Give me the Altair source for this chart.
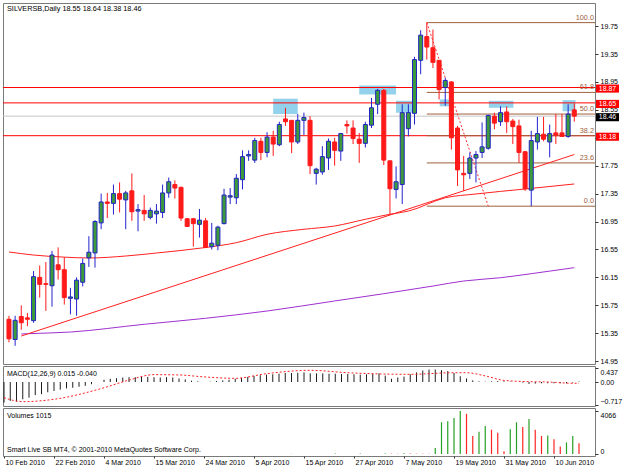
import altair as alt
import pandas as pd

# ---------------- data ----------------
opens = [15.55, 15.26, 15.59, 15.57, 15.53, 16.15, 16.06, 16.03, 16.33, 16.26,
         15.85, 15.84, 16.08, 16.43, 16.50, 16.93, 17.23, 17.21, 17.35, 17.26,
         17.39, 17.10, 17.11, 17.01, 17.06, 17.08, 17.36, 17.48, 17.44, 16.99,
         16.99, 16.91, 16.96, 16.59, 16.61, 16.92, 17.30, 17.29, 17.55, 17.89,
         17.83, 18.10, 17.94, 18.16, 18.05, 18.42, 18.40, 18.09, 18.40, 18.40,
         17.64, 17.66, 17.86, 18.09, 17.96, 18.34, 18.29, 18.13, 18.07, 18.33,
         18.63, 18.83, 17.82, 17.41, 17.48, 18.28, 18.50, 19.26, 19.60, 19.44,
         19.26, 18.87, 18.95, 18.29, 17.64, 17.64, 17.86, 17.94, 18.00, 18.46,
         18.38, 18.52, 18.39, 18.32, 17.95, 17.40, 18.09, 18.20, 18.09, 18.22,
         18.22, 18.17, 18.55]
highs = [15.60, 15.60, 15.75, 15.64, 16.24, 16.32, 16.37, 16.53, 16.58, 16.44,
         16.00, 16.15, 16.42, 16.74, 16.97, 17.35, 17.36, 17.48, 17.51, 17.39,
         17.64, 17.20, 17.33, 17.15, 17.20, 17.48, 17.58, 17.54, 17.45, 17.00,
         17.00, 17.13, 17.00, 16.93, 16.89, 17.42, 17.43, 17.63, 17.97, 17.97,
         18.15, 18.15, 18.23, 18.25, 18.38, 18.58, 18.40, 18.49, 18.51, 18.46,
         17.72, 18.03, 18.14, 18.15, 18.22, 18.40, 18.40, 18.22, 18.38, 18.72,
         18.85, 18.85, 17.82, 17.74, 18.63, 18.63, 19.31, 19.69, 19.80, 19.70,
         19.26, 19.01, 18.96, 18.32, 17.89, 17.94, 17.96, 18.37, 18.48, 18.51,
         18.60, 18.60, 18.42, 18.41, 17.96, 18.25, 18.45, 18.45, 18.34, 18.49,
         18.49, 18.63, 18.64]
lows = [15.22, 15.17, 15.40, 15.45, 15.50, 15.86, 15.67, 15.73, 16.12, 15.76,
        15.62, 15.60, 16.02, 16.30, 16.29, 16.84, 17.00, 17.05, 17.08, 16.84,
        16.96, 16.81, 16.96, 16.98, 16.92, 17.00, 17.29, 17.28, 16.96, 16.87,
        16.59, 16.72, 16.57, 16.55, 16.54, 16.91, 17.20, 17.20, 17.41, 17.82,
        17.79, 17.83, 17.87, 17.89, 18.03, 18.32, 17.93, 18.06, 18.19, 17.63,
        17.48, 17.62, 17.69, 17.75, 17.82, 18.21, 18.06, 17.79, 18.01, 18.29,
        18.49, 17.76, 17.05, 17.28, 17.20, 18.17, 18.34, 19.06, 19.27, 19.15,
        18.70, 18.61, 17.98, 17.46, 17.39, 17.56, 17.51, 17.86, 17.98, 18.27,
        18.32, 18.22, 18.06, 17.79, 17.39, 17.17, 17.98, 18.10, 17.87, 18.06,
        18.17, 18.15, 18.38]
closes = [15.27, 15.535, 15.50, 15.55, 16.16, 16.05, 16.05, 16.47, 16.26, 15.86,
          15.87, 16.11, 16.35, 16.51, 16.95, 17.23, 17.21, 17.35, 17.27, 17.36,
          17.09, 17.12, 17.06, 17.11, 17.10, 17.36, 17.52, 17.43, 17.00, 16.88,
          16.92, 16.97, 16.58, 16.64, 16.87, 17.33, 17.32, 17.57, 17.88, 17.91,
          18.11, 17.94, 18.16, 18.06, 18.34, 18.38, 18.09, 18.40, 18.44, 17.75,
          17.70, 17.88, 18.10, 17.97, 18.21, 18.32, 18.14, 18.07, 18.34, 18.58,
          18.83, 17.83, 17.42, 17.52, 18.51, 18.51, 19.27, 19.62, 19.45, 19.23,
          18.84, 18.97, 18.15, 17.69, 17.62, 17.86, 17.91, 18.02, 18.47, 18.36,
          18.51, 18.38, 18.31, 17.94, 17.42, 18.11, 18.21, 18.13, 18.21, 18.19,
          18.17, 18.49, 18.46]
volumes = [0, 0, 0, 20, 0, 0, 0, 15, 0, 0,
           0, 0, 0, 0, 0, 0, 0, 0, 0, 0,
           0, 0, 0, 0, 0, 0, 0, 0, 0, 0,
           15, 0, 0, 0, 0, 0, 0, 0, 0, 0,
           0, 0, 0, 0, 0, 0, 20, 0, 0, 0,
           0, 0, 0, 40, 0, 0, 0, 40, 0, 0,
           0, 50, 30, 25, 60, 40, 30, 25, 20, 560,
           3000, 3100, 3400, 4066, 3800, 1700, 2100, 2650, 2300, 2000,
           260, 2350, 3000, 2550, 3300, 2300, 1700, 1750, 1400, 700,
           1100, 1700, 1015]
macd_hist = [-0.64, -0.59, -0.61, -0.54, -0.49, -0.41, -0.38, -0.32, -0.28, -0.24,
             -0.20, -0.18, -0.15, -0.12, -0.07, 0.00, 0.07, 0.10, 0.12, 0.14,
             0.15, 0.15, 0.16, 0.16, 0.15, 0.14, 0.15, 0.14, 0.11, 0.08,
             0.04, 0.02, 0.00, 0.01, 0.03, 0.05, 0.07, 0.10, 0.13, 0.16,
             0.19, 0.21, 0.23, 0.24, 0.26, 0.28, 0.28, 0.29, 0.30, 0.27,
             0.27, 0.27, 0.26, 0.26, 0.25, 0.25, 0.24, 0.23, 0.24, 0.26,
             0.27, 0.20, 0.10, 0.14, 0.17, 0.24, 0.30, 0.36, 0.39, 0.39,
             0.37, 0.34, 0.28, 0.18, 0.11, 0.05, 0.02, 0.01, 0.02, 0.03,
             0.02, 0.01, 0.00, -0.02, -0.06, -0.05, -0.04, -0.04, -0.04, -0.04,
             -0.04, -0.02, 0.015]
signal_i = [0, 3, 8, 16, 20, 24, 28, 32, 37, 42, 49, 55, 65, 72, 74, 77, 80, 84, 87, 91, 92]
signal_v = [-0.49, -0.615, -0.54, -0.18, 0.06, 0.23, 0.22, 0.16, 0.115, 0.26, 0.365,
            0.29, 0.24, 0.29, 0.29, 0.19, 0.05, 0.01, 0.0, -0.04, -0.04]

ma_red_i = [0, 4, 9, 13, 19, 24, 32, 37, 42, 48, 53, 58, 62, 65, 71, 76, 84, 92]
ma_red_p = [16.514, 16.47, 16.44, 16.428, 16.456, 16.499, 16.578, 16.647, 16.767,
            16.839, 16.886, 16.982, 17.054, 17.10, 17.29, 17.345, 17.416, 17.488]
ma_purple_i = [2, 3, 10, 22, 32, 42, 53, 61, 69, 74, 80, 85, 92]
ma_purple_p = [15.339, 15.343, 15.367, 15.478, 15.564, 15.668, 15.812, 15.916,
               16.026, 16.098, 16.145, 16.203, 16.289]
trend_i = [2, 92]
trend_p = [15.31, 17.91]

hline_p = [18.87, 18.65, 18.18]
current_p = [18.46]
fib_p = [19.80, 18.80, 18.49, 18.18, 17.79, 17.17]
fib_txt = ["100.0", "61.8", "50.0", "38.2", "23.6", "0.0"]
fib_from = 68
fib_diag_i = [68, 78]
fib_diag_p = [19.80, 17.17]

zone_i0 = [43, 57, 63, 70.1, 78.1, 90.1]
zone_i1 = [47, 63, 65.8, 72, 82.1, 92.2]
zone_p0 = [18.49, 18.77, 18.51, 18.60, 18.58, 18.53]
zone_p1 = [18.71, 18.90, 18.68, 18.70, 18.68, 18.69]

tag_p = [18.87, 18.65, 18.46, 18.18]
tag_txt = ["18.87", "18.65", "18.46", "18.18"]
tag_col = ["#ff0000", "#ff0000", "#000000", "#ff0000"]

price_ticks = [14.95, 15.35, 15.75, 16.15, 16.55, 16.95, 17.35, 17.75, 18.15,
               18.55, 18.95, 19.35, 19.75]
hidden_tick_labels = ["18.15"]
date_ticks = [0, 8, 16, 24, 32, 40, 48, 56, 64, 72, 80, 88]
date_labels = ["10 Feb 2010", "22 Feb 2010", "4 Mar 2010", "15 Mar 2010",
               "24 Mar 2010", "5 Apr 2010", "15 Apr 2010", "27 Apr 2010",
               "7 May 2010", "19 May 2010", "31 May 2010", "10 Jun 2010"]
macd_ticks = [0.437, 0.0, -0.717]
vol_ticks = [4066, 0]

# ---------------- tables ----------------
n = len(opens)
bars = pd.DataFrame({"i": list(range(n)), "o": opens, "h": highs, "l": lows,
                     "c": closes, "vol": volumes, "macd": macd_hist})
bars["zero"] = 0.0
bars["volup"] = bars["vol"] >= bars["vol"].shift(1).fillna(0)
sig = pd.DataFrame({"i": signal_i, "v": signal_v})
mared = pd.DataFrame({"i": ma_red_i, "p": ma_red_p})
mapur = pd.DataFrame({"i": ma_purple_i, "p": ma_purple_p})
trend = pd.DataFrame({"i": trend_i, "p": trend_p})
hl = pd.DataFrame({"p": hline_p})
cur = pd.DataFrame({"p": current_p})
fib = pd.DataFrame({"p": fib_p, "t": fib_txt, "s": [fib_from] * len(fib_p)})
fdiag = pd.DataFrame({"i": fib_diag_i, "p": fib_diag_p})
zones = pd.DataFrame({"i0": zone_i0, "i1": zone_i1, "p0": zone_p0, "p1": zone_p1})
TAG_HALF = 0.058
tags = pd.DataFrame({"p": tag_p, "t": tag_txt, "col": tag_col})
tags["pc"] = tags["p"] - 0.015
tags["top"] = tags["pc"] + TAG_HALF
tags["bot"] = tags["pc"] - TAG_HALF

W = 592
FONT = "Liberation Sans"
xs = alt.Scale(domain=[-0.16, 94.56], nice=False, zero=False)
ys = alt.Scale(domain=[14.909, 20.081], nice=False, zero=False)
hidden_js = "[" + ",".join("'" + s + "'" for s in hidden_tick_labels) + "]"
price_axis = alt.Axis(orient="right", values=price_ticks, title=None,
                      labelExpr="indexof(" + hidden_js + ", format(datum.value, '.2f')) >= 0 ? '' : format(datum.value, '.2f')",
                      tickSize=3, labelPadding=2, domain=False, grid=False, zindex=0)


def X(f):
    return alt.X(f, type="quantitative", scale=xs, axis=None)


def Y(f):
    return alt.Y(f, type="quantitative", scale=ys, axis=price_axis)


up = "datum.c >= datum.o"

zone_l = alt.Chart(zones).mark_rect(color="#87cdea", opacity=0.9).encode(
    x=X("i0"), x2="i1", y=Y("p0"), y2="p1")
hl_l = alt.Chart(hl).mark_rule(color="#ff0000", strokeWidth=1).encode(y=Y("p"))
cur_l = alt.Chart(cur).mark_rule(color="#c8c8c8", strokeWidth=1).encode(y=Y("p"))
fib_l = alt.Chart(fib).mark_rule(color="#a0603c", strokeWidth=1).encode(
    x=X("s"), x2=alt.value(W), y=Y("p"))
fibt_l = alt.Chart(fib).mark_text(color="#a0603c", align="right", baseline="bottom",
                                  dy=-1, font=FONT, fontSize=7.3).encode(
    x=alt.value(W - 1), y=Y("p"), text="t")
fdiag_l = alt.Chart(fdiag).mark_line(color="#ff3030", strokeWidth=1, strokeDash=[2, 2]).encode(
    x=X("i"), y=Y("p"))
mared_l = alt.Chart(mared).mark_line(color="#ff2020", strokeWidth=1, interpolate="monotone").encode(
    x=X("i"), y=Y("p"))
mapur_l = alt.Chart(mapur).mark_line(color="#a030d0", strokeWidth=1, interpolate="monotone").encode(
    x=X("i"), y=Y("p"))
trend_l = alt.Chart(trend).mark_line(color="#ff2020", strokeWidth=1).encode(
    x=X("i"), y=Y("p"))
wick_l = alt.Chart(bars).mark_rule(strokeWidth=1).encode(
    x=X("i"), y=Y("l"), y2="h",
    color=alt.condition(up, alt.value("#2323d0"), alt.value("#ff1a1a")))
body_l = alt.Chart(bars).mark_bar(size=4, strokeWidth=1).encode(
    x=X("i"), y=Y("o"), y2="c",
    fill=alt.condition(up, alt.value("#3c9a3c"), alt.value("#ff1a1a")),
    stroke=alt.condition(up, alt.value("#2323c0"), alt.value("#ff1a1a")))
tagbox_l = alt.Chart(tags).mark_rect().encode(
    x=alt.value(W + 1), x2=alt.value(W + 24), y=Y("top"), y2="bot",
    color=alt.Color("col:N", scale=None))
tagtxt_l = alt.Chart(tags).mark_text(color="white", font=FONT, fontSize=7, align="center").encode(
    x=alt.value(W + 12.5), y=Y("pc"), text="t")
title_l = alt.Chart(pd.DataFrame({"t": ["SILVERSB,Daily  18.55 18.64 18.38 18.46"]})).mark_text(
    align="left", baseline="middle", font=FONT, fontSize=7.3, color="black").encode(
    x=alt.value(4), y=alt.value(6), text="t")

main = alt.layer(zone_l, cur_l, hl_l, fib_l, fibt_l, mapur_l, mared_l, trend_l, fdiag_l,
                 wick_l, body_l, tagbox_l, tagtxt_l, title_l).properties(width=W, height=361)

# ---------------- MACD ----------------
ms = alt.Scale(domain=[-0.75, 0.5], nice=False, zero=False)
macd_axis = alt.Axis(orient="right", values=macd_ticks, title=None, tickSize=3,
                     labelPadding=2, domain=False, grid=False,
                     labelExpr="datum.value == 0 ? '0.00' : format(datum.value, '.3f')",
                     labelBaseline={"condition": [
                         {"test": "datum.value > 0.2", "value": "top"},
                         {"test": "datum.value < -0.2", "value": "bottom"}],
                         "value": "middle"})
macd_bar = alt.Chart(bars).mark_rule(color="#1e1e1e", strokeWidth=1).encode(
    x=X("i"),
    y=alt.Y("zero", type="quantitative", scale=ms, axis=macd_axis),
    y2="macd")
macd_sig = alt.Chart(sig).mark_line(color="#ff2020", strokeWidth=1, strokeDash=[2, 2],
                                    interpolate="monotone").encode(
    x=X("i"), y=alt.Y("v", type="quantitative", scale=ms, axis=macd_axis))
macd_txt = alt.Chart(pd.DataFrame({"t": ["MACD(12,26,9) 0.015 -0.040"]})).mark_text(
    align="left", baseline="middle", font=FONT, fontSize=7, color="black").encode(
    x=alt.value(4), y=alt.value(8), text="t")
macd = alt.layer(macd_bar, macd_sig, macd_txt).properties(width=W, height=40)

# ---------------- Volumes ----------------
vs = alt.Scale(domain=[-189, 4350], nice=False, zero=False)
label_js = "[" + ",".join("'" + d + "'" for d in date_labels) + "][round(datum.value/8)]"
vol_bar = alt.Chart(bars).mark_rule(strokeWidth=1.2).encode(
    x=alt.X("i", type="quantitative", scale=xs,
            axis=alt.Axis(values=date_ticks, labelExpr=label_js, title=None, labelAlign="left",
                          labelOffset=1, labelPadding=0, tickSize=2, domain=False, grid=False,
                          labelFlush=False, labelOverlap=False)),
    y=alt.Y("zero", type="quantitative", scale=vs,
            axis=alt.Axis(orient="right", values=vol_ticks, title=None, tickSize=3,
                          labelPadding=2, domain=False, grid=False, format="d",
                          labelBaseline={"condition": {"test": "datum.value > 100", "value": "top"},
                                         "value": "bottom"})),
    y2="vol",
    color=alt.condition("datum.volup", alt.value("#24a024"), alt.value("#ff2424")))
vol_txt = alt.Chart(pd.DataFrame({"t": ["Volumes 1015"]})).mark_text(
    align="left", baseline="middle", font=FONT, fontSize=7, color="black").encode(
    x=alt.value(4), y=alt.value(8), text="t")
copy_txt = alt.Chart(pd.DataFrame({"t": ["Smart Live SB MT4, © 2001-2010 MetaQuotes Software Corp."]})).mark_text(
    align="left", baseline="middle", font=FONT, fontSize=7, color="black").encode(
    x=alt.value(4), y=alt.value(41.5), text="t")
vol = alt.layer(vol_bar, vol_txt, copy_txt).properties(width=W, height=48)

chart = alt.vconcat(main, macd, vol, spacing=2, bounds="flush").properties(
    padding={"left": 1, "top": 2, "right": 0, "bottom": 0},
    background="white"
).configure_view(stroke="#7a7a7a", strokeWidth=1).configure_axis(
    labelFont=FONT, labelFontSize=7, labelColor="black", tickColor="#333333")

chart.save("out.html", embed_options={"renderer": "svg", "actions": False})
